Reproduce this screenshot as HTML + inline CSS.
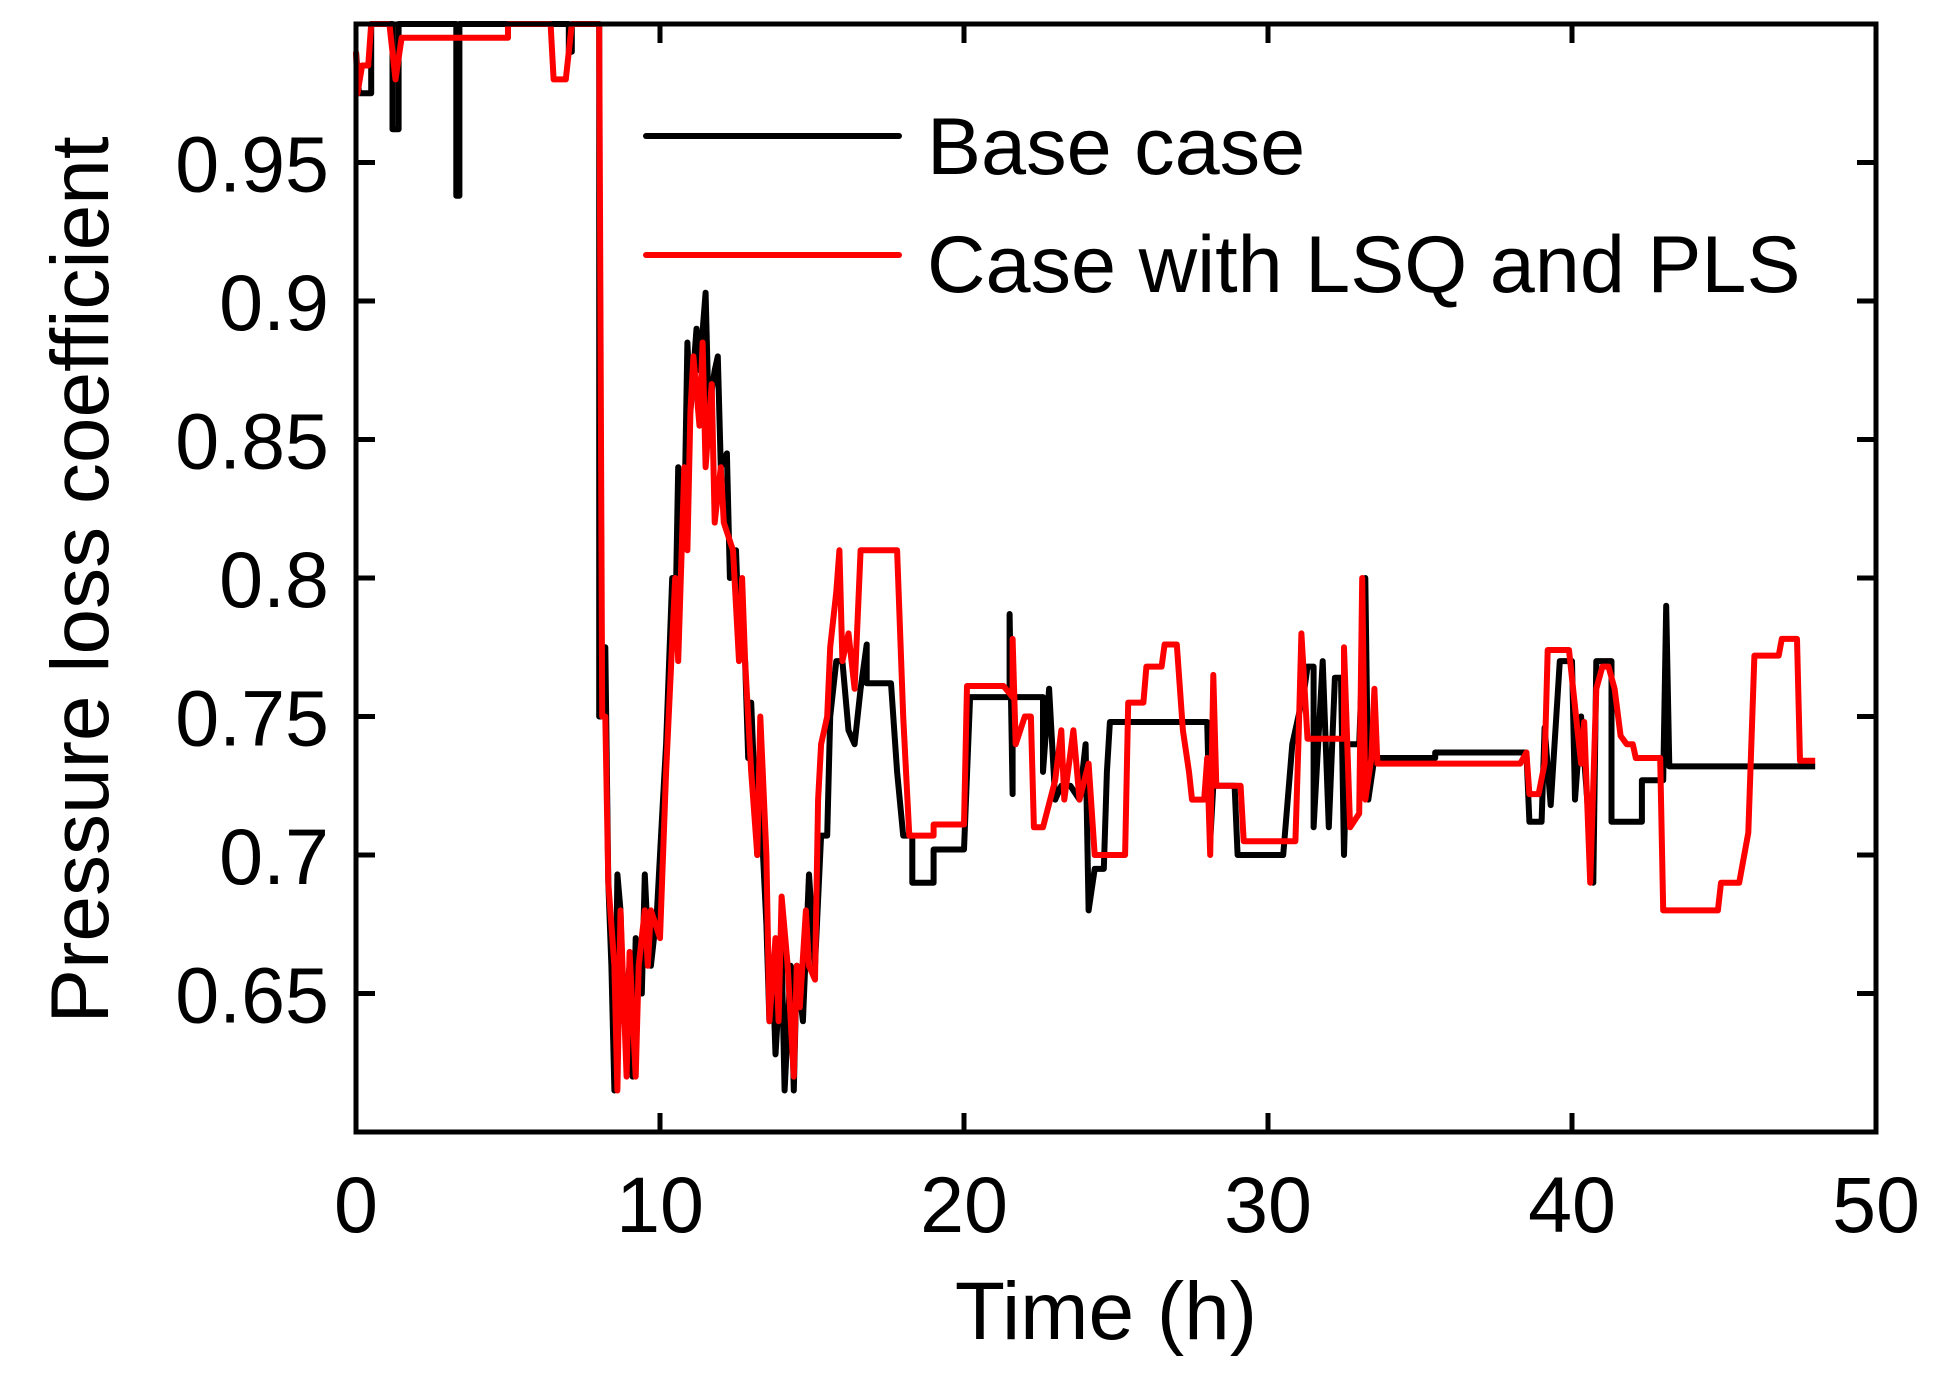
<!DOCTYPE html>
<html><head><meta charset="utf-8"><style>
html,body{margin:0;padding:0;background:#fff;}
svg{display:block;font-family:"Liberation Sans",Arial,sans-serif;}
</style></head><body>
<svg id="chart" width="1938" height="1384" viewBox="0 0 1938 1384" xmlns="http://www.w3.org/2000/svg">
<g id="plot"></g>
<g id="axes"></g>
<g id="legend">
  <line x1="646" y1="136" x2="899" y2="136" stroke="#000" stroke-width="6" stroke-linecap="round"/>
  <text x="927" y="174" font-size="81">Base case</text>
  <line x1="646" y1="255" x2="899" y2="255" stroke="#ff0000" stroke-width="6" stroke-linecap="round"/>
  <text x="927" y="292" font-size="81">Case with LSQ and PLS</text>
</g>
<text x="1106" y="1339" font-size="82" text-anchor="middle">Time (h)</text>
<text transform="translate(108,580) rotate(-90)" font-size="82" text-anchor="middle">Pressure loss coefficient</text>
</svg>
<script>
const xTicks = [0, 10, 20, 30, 40, 50];
const yTicks = [0.65, 0.7, 0.75, 0.8, 0.85, 0.9, 0.95];
const yTickLabels = ["0.65", "0.7", "0.75", "0.8", "0.85", "0.9", "0.95"];
const baseTime = [0,0.1,0.5,0.5,1.2,1.2,1.4,1.4,3.3,3.3,3.4,3.4,7.0,7.0,7.1,7.1,8.0,8.0,8.1,8.1,8.2,8.3,8.4,8.5,8.6,8.7,8.8,9.0,9.1,9.2,9.4,9.5,9.6,9.7,9.9,10.1,10.2,10.4,10.5,10.6,10.8,10.9,11.0,11.2,11.3,11.5,11.6,11.8,11.9,12.0,12.2,12.3,12.5,12.6,12.8,12.9,13.0,13.2,13.3,13.5,13.6,13.7,13.8,14.0,14.1,14.3,14.4,14.5,14.7,14.9,15.1,15.3,15.5,15.6,15.8,16.0,16.2,16.4,16.6,16.8,16.8,17.6,17.8,18.0,18.3,18.3,19.0,19.0,20.0,20.2,21.5,21.5,21.6,21.6,22.6,22.6,22.8,23.0,23.2,23.5,23.8,24.0,24.1,24.3,24.6,24.7,24.8,28.0,28.1,28.2,28.9,29.0,30.5,30.8,31.2,31.3,31.5,31.5,31.8,32.0,32.2,32.4,32.5,32.6,33.0,33.2,33.3,33.5,35.5,35.5,38.5,38.6,39.0,39.1,39.3,39.6,40.0,40.1,40.3,40.5,40.7,40.8,41.3,41.3,42.3,42.3,43.0,43.1,43.2,48.0];
const baseValue = [0.99,0.975,0.975,1.0,1.0,0.962,0.962,1.0,1.0,0.938,0.938,1.0,1.0,0.99,0.99,1.0,1.0,0.75,0.75,0.775,0.775,0.69,0.66,0.615,0.693,0.68,0.64,0.66,0.62,0.67,0.65,0.693,0.67,0.66,0.68,0.72,0.74,0.8,0.78,0.84,0.82,0.885,0.86,0.89,0.875,0.903,0.86,0.875,0.88,0.84,0.845,0.8,0.81,0.78,0.77,0.735,0.755,0.7,0.72,0.675,0.64,0.66,0.628,0.665,0.615,0.66,0.615,0.66,0.64,0.693,0.66,0.707,0.707,0.75,0.77,0.77,0.745,0.74,0.76,0.776,0.762,0.762,0.73,0.707,0.707,0.69,0.69,0.702,0.702,0.757,0.757,0.787,0.722,0.757,0.757,0.73,0.76,0.72,0.725,0.725,0.72,0.74,0.68,0.695,0.695,0.73,0.748,0.748,0.705,0.725,0.725,0.7,0.7,0.74,0.76,0.768,0.768,0.71,0.77,0.71,0.764,0.764,0.70,0.74,0.74,0.80,0.72,0.735,0.735,0.737,0.737,0.712,0.712,0.746,0.718,0.77,0.77,0.72,0.75,0.72,0.69,0.77,0.77,0.712,0.712,0.727,0.727,0.79,0.732,0.732];
const lsqTime = [0,0.05,0.2,0.4,0.5,1.1,1.3,1.5,5.0,5.0,6.4,6.5,6.9,7.1,8.0,8.1,8.2,8.3,8.5,8.6,8.7,8.9,9.0,9.2,9.3,9.5,9.6,9.7,10.0,10.2,10.5,10.6,10.8,10.9,11.0,11.1,11.3,11.4,11.5,11.7,11.8,12.0,12.1,12.4,12.6,12.7,12.8,13.0,13.2,13.3,13.5,13.6,13.8,13.9,14.0,14.2,14.4,14.5,14.6,14.8,14.9,15.1,15.2,15.3,15.5,15.6,15.8,15.9,16.0,16.2,16.4,16.6,17.8,18.0,18.2,19.0,19.0,20.0,20.1,21.3,21.6,21.6,21.7,22.0,22.2,22.3,22.6,23.0,23.2,23.3,23.6,23.8,24.1,24.3,25.3,25.4,25.9,26.0,26.5,26.6,27.0,27.2,27.4,27.5,27.9,28.0,28.1,28.2,28.3,29.1,29.2,30.9,31.0,31.1,31.3,32.5,32.5,32.7,33.0,33.1,33.2,33.4,33.5,33.6,38.3,38.5,38.6,38.9,39.1,39.2,39.9,40.2,40.3,40.4,40.6,40.8,41.0,41.2,41.4,41.6,41.8,42.0,42.1,42.9,43.0,44.8,44.9,45.5,45.8,46.0,46.8,46.9,47.4,47.5,48.0];
const lsqValue = [0.99,0.975,0.985,0.985,1.0,1.0,0.98,0.995,0.995,1.0,1.0,0.98,0.98,1.0,1.0,0.75,0.75,0.69,0.66,0.615,0.68,0.62,0.665,0.62,0.66,0.68,0.66,0.68,0.67,0.73,0.8,0.77,0.84,0.81,0.86,0.88,0.855,0.885,0.84,0.87,0.82,0.84,0.82,0.81,0.77,0.80,0.77,0.73,0.70,0.75,0.70,0.64,0.67,0.64,0.685,0.66,0.62,0.66,0.645,0.68,0.66,0.655,0.72,0.74,0.75,0.775,0.795,0.81,0.77,0.78,0.76,0.81,0.81,0.75,0.707,0.707,0.711,0.711,0.761,0.761,0.757,0.778,0.74,0.75,0.75,0.71,0.71,0.727,0.745,0.72,0.745,0.72,0.733,0.700,0.700,0.755,0.755,0.768,0.768,0.776,0.776,0.745,0.73,0.72,0.72,0.735,0.70,0.765,0.725,0.725,0.705,0.705,0.74,0.78,0.742,0.742,0.775,0.71,0.715,0.80,0.72,0.735,0.76,0.733,0.733,0.737,0.722,0.722,0.733,0.774,0.774,0.743,0.733,0.748,0.69,0.76,0.768,0.768,0.76,0.743,0.74,0.74,0.735,0.735,0.68,0.68,0.69,0.69,0.708,0.772,0.772,0.778,0.778,0.734,0.734];

const L = 356, R = 1876, T = 24, B = 1132;
const xMin = 0, xMax = 50, yMin = 0.6, yMax = 1.0;
function xs(t){ return L + (t - xMin) / (xMax - xMin) * (R - L); }
function ys(v){ return B - (v - yMin) / (yMax - yMin) * (B - T); }
const NS = "http://www.w3.org/2000/svg";
const plot = document.getElementById('plot');
const axes = document.getElementById('axes');

function drawSeries(times, vals, color, name){
  const pts = times.map((t,i) => xs(t).toFixed(1) + ',' + ys(vals[i]).toFixed(1)).join(' ');
  const pl = document.createElementNS(NS, 'polyline');
  pl.setAttribute('points', pts);
  pl.setAttribute('fill', 'none');
  pl.setAttribute('stroke', color);
  pl.setAttribute('stroke-width', '6');
  pl.setAttribute('stroke-linejoin', 'round');
  
  
  plot.appendChild(pl);
}
drawSeries(baseTime, baseValue, '#000', 'base-case-line');
drawSeries(lsqTime, lsqValue, '#ff0000', 'lsq-pls-line');

const frame = document.createElementNS(NS, 'rect');
frame.setAttribute('x', L); frame.setAttribute('y', T);
frame.setAttribute('width', R - L); frame.setAttribute('height', B - T);
frame.setAttribute('fill', 'none'); frame.setAttribute('stroke', '#000'); frame.setAttribute('stroke-width', '5');


axes.appendChild(frame);

function line(x1,y1,x2,y2){
  const l = document.createElementNS(NS, 'line');
  l.setAttribute('x1', x1); l.setAttribute('y1', y1); l.setAttribute('x2', x2); l.setAttribute('y2', y2);
  l.setAttribute('stroke', '#000'); l.setAttribute('stroke-width', '5');
  
  
  axes.appendChild(l);
}
function text(x,y,s,anchor,name){
  const t = document.createElementNS(NS, 'text');
  t.setAttribute('x', x); t.setAttribute('y', y);
  t.setAttribute('font-size', '79'); t.setAttribute('text-anchor', anchor);
  t.textContent = s;
  
  
  axes.appendChild(t);
}
const tk = 19;
xTicks.forEach(v => {
  const x = xs(v);
  line(x, B, x, B - tk); line(x, T, x, T + tk);
  text(x, 1232, String(v), 'middle', 'x-tick-label');
});
yTicks.forEach((v,i) => {
  const y = ys(v);
  line(L, y, L + tk, y); line(R, y, R - tk, y);
  text(329, y + 29, yTickLabels[i], 'end', 'y-tick-label');
});
</script>
</body></html>
